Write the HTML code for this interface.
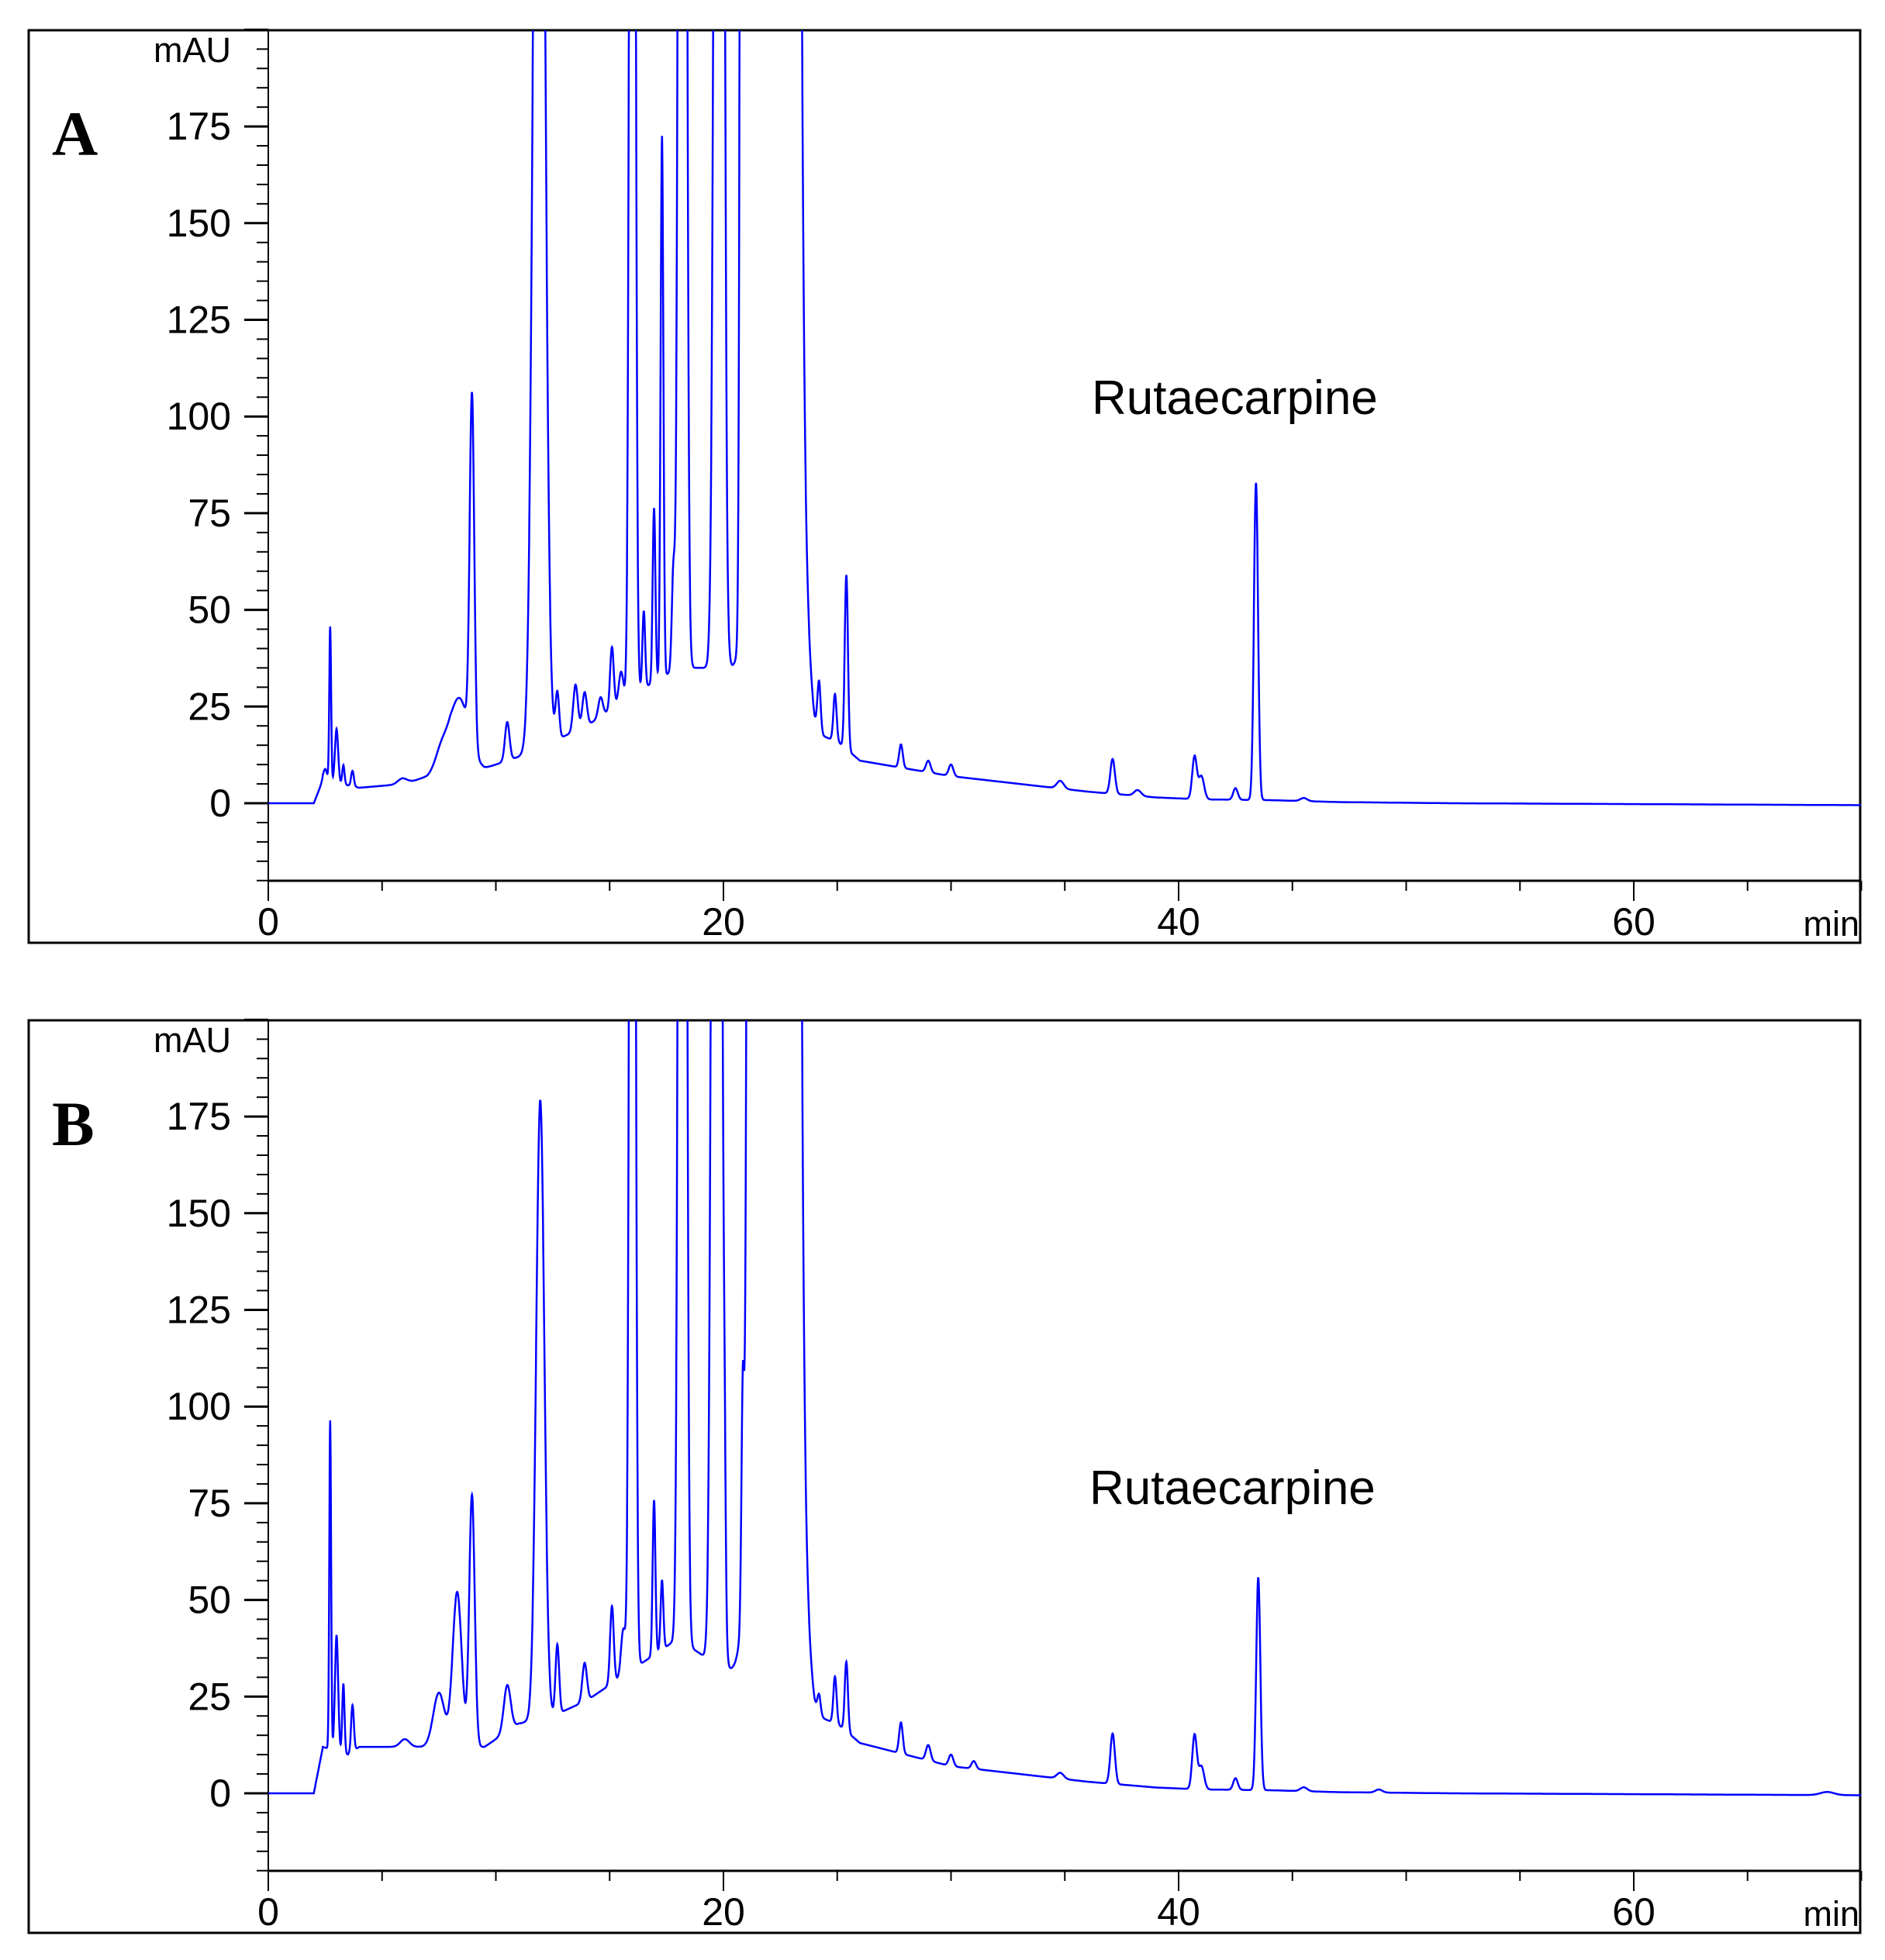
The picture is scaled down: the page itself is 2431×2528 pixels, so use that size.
<!DOCTYPE html>
<html><head><meta charset="utf-8"><style>
html,body{margin:0;padding:0;background:#fff}
svg{display:block}
text{font-family:"Liberation Sans",Arial,sans-serif;fill:#000}
</style></head><body>
<svg id="s" xmlns="http://www.w3.org/2000/svg" width="2431" height="2528" viewBox="0 0 2431 2528"></svg>
<script>
const S=document.getElementById('s');
const NS='http://www.w3.org/2000/svg';
function el(n,a,t){const e=document.createElementNS(NS,n);for(const k in a)e.setAttribute(k,a[k]);if(t!==undefined)e.textContent=t;S.appendChild(e);return e;}
const X=t=>346+t*29.35;
function panel(off,letter,label,lx,ly,base,peaks){
  const top=39+off, bot=1216+off, y0=1036+off, ax=1136+off;
  const Y=v=>y0-v*4.988;
  el('rect',{x:37,y:top,width:2362,height:bot-top,fill:'none',stroke:'#000','stroke-width':3});
  el('line',{x1:346,y1:top,x2:346,y2:ax+26,stroke:'#000','stroke-width':2});
  el('line',{x1:346,y1:ax,x2:2400,y2:ax,stroke:'#000','stroke-width':3});
  for(let v=-20;v<=200;v+=5){const y=Y(v);const maj=v%25==0;
    if(y<top-1)continue;
    el('line',{x1:maj?315:331,y1:y,x2:346,y2:y,stroke:'#000','stroke-width':maj?3:2});
    if(maj&&v>=0&&v<=175)el('text',{x:298,y:y+17,'font-size':50,'text-anchor':'end'},String(v));}
  el('text',{x:298,y:80+off,'font-size':45,'text-anchor':'end'},'mAU');
  for(let t=0;t<=70;t+=5){const x=X(t);const maj=t%20==0;
    el('line',{x1:x,y1:ax,x2:x,y2:ax+(maj?26:13),stroke:'#000','stroke-width':2});
    if(maj)el('text',{x:x,y:1206+off,'font-size':50,'text-anchor':'middle'},String(t));}
  el('text',{x:2398,y:1207+off,'font-size':45,'text-anchor':'end'},'min');
  el('text',{x:67,y:200+off,'font-size':82,'font-weight':'bold','style':'font-family:"Liberation Serif",serif'},letter);
  el('text',{x:lx,y:ly,'font-size':62},label);
  const cid='c'+letter;
  const cp=el('clipPath',{id:cid});const r=document.createElementNS(NS,'rect');
  r.setAttribute('x',346);r.setAttribute('y',top);r.setAttribute('width',2054);r.setAttribute('height',ax-top);cp.appendChild(r);
  function bl(t){for(let i=0;i<base.length-1;i++){const a=base[i],b=base[i+1];if(t>=a[0]&&t<=b[0])return a[1]+(b[1]-a[1])*(t-a[0])/(b[0]-a[0]);}return base[base.length-1][1];}
  let d='';
  for(let t=0;t<=70;t+=0.01){let v=bl(t);for(const p of peaks){const z=(t-p[0])/p[2];if(Math.abs(z)<6)v+=p[1]*Math.exp(-z*z/2);}
    let y=Y(v);if(y<top-20)y=top-20;d+=(d?'L':'M')+X(t).toFixed(1)+','+y.toFixed(1);}
  el('path',{d:d,fill:'none',stroke:'#0000ff','stroke-width':2.5,'clip-path':'url(#'+cid+')'});
}
const baseA=[[0,0],[2,0],[2.4,6],[4,4],[6,5],[7,7],[8,12],[9.5,9],[11,12],[12.5,16],[14,20],[16,28],[18,35],[20,35],[23.5,30],[24,18],[25,16],[26,11],[28,9],[30,7],[33,5],[36,3],[39,1.5],[41,1],[44,0.8],[47,0.3],[52,0],[70,-0.5]];
const pkA=[[2.5,3,0.08],[2.72,40,0.04],[3.0,14,0.07],[3.3,5,0.05],[3.7,4,0.06],[5.9,1.5,0.2],[7.6,4,0.25],[8.4,16,0.4],[8.95,90,0.1],[10.5,10,0.1],[11.9,400,0.22],[12.7,12,0.08],[13.5,12,0.1],[13.9,9,0.1],[14.6,5,0.1],[15.1,16,0.08],[15.5,8,0.1],[16.0,600,0.1],[16.5,20,0.06],[16.95,45,0.06],[17.3,140,0.06],[17.8,25,0.07],[18.2,900,0.12],[19.8,700,0.15],[20.05,45,0.05],[20.85,800,0.08],[21.25,900,0.1],[22.3,1500,0.5],[23.0,900,0.2],[24.2,13,0.07],[24.9,12,0.07],[25.4,45,0.07],[27.8,6,0.08],[29.0,3,0.1],[30.0,3,0.1],[34.8,2,0.15],[37.1,9,0.1],[38.2,1.5,0.15],[40.7,11,0.1],[41.0,6,0.12],[42.5,3,0.1],[43.4,82,0.09],[45.5,0.8,0.15]];
const baseB=[[0,0],[2,0],[2.4,12],[3.5,10],[4,12],[6,12],[7,12],[9.5,12],[11,18],[12.5,20],[14,24],[16,32],[18,40],[20,32],[23.5,28],[24,20],[25,18],[26,13],[28,10],[30,7],[33,5],[36,3],[39,1.5],[41,1],[44,0.8],[47,0.3],[52,0],[70,-0.5]];
const pkB=[[2.72,85,0.04],[3.0,30,0.07],[3.3,18,0.05],[3.7,12,0.06],[6.0,2,0.2],[7.5,14,0.25],[8.3,40,0.2],[8.95,65,0.12],[10.5,12,0.15],[11.95,160,0.18],[12.7,18,0.08],[13.9,10,0.1],[15.1,20,0.08],[15.6,12,0.1],[16.0,600,0.1],[16.95,40,0.06],[17.3,18,0.06],[18.2,900,0.12],[19.7,800,0.15],[20.05,30,0.05],[20.85,55,0.06],[21.2,900,0.1],[22.3,1500,0.5],[23.0,900,0.2],[24.2,5,0.07],[24.9,12,0.07],[25.4,18,0.07],[27.8,8,0.08],[29.0,4,0.1],[30.0,3,0.1],[31,2,0.1],[34.8,1.5,0.15],[37.1,13,0.1],[40.7,14,0.1],[41.0,6,0.12],[42.5,3,0.1],[43.5,55,0.09],[45.5,1,0.15],[48.8,0.8,0.15],[68.5,0.8,0.3]];
panel(0,'A','Rutaecarpine',1408,534,baseA,pkA);
panel(1277,'B','Rutaecarpine',1405,1940,baseB,pkB);
</script>
</body></html>
